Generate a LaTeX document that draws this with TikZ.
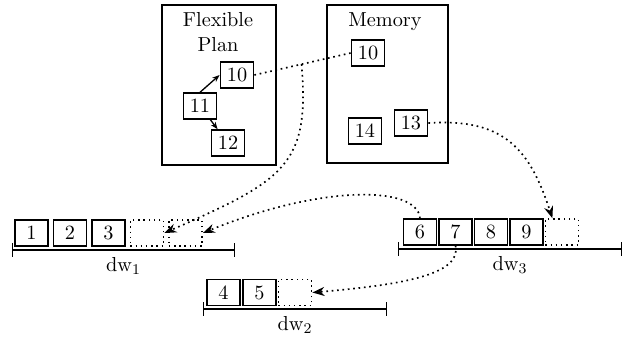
\documentclass[tikz,border=0pt]{standalone}
\usetikzlibrary{arrows.meta}
\begin{document}
\begin{tikzpicture}[x=0.0189cm, y=-0.0189cm,
		every node/.style={font=\fontsize{10.9}{13.4}\selectfont},
		cell/.style={draw, line width=0.8pt, minimum width=0.63cm, minimum height=0.49cm, inner sep=0pt},
		slot/.style={cell, dotted},
		holder/.style={draw, line width=0.8pt},
		link/.style={dotted, line width=0.9pt},
		pointer/.style={link, -{Stealth[length=6.5pt]}},
		step arrow/.style={line width=0.7pt, -{Stealth[length=4pt]}},
		bracket/.style={line width=0.8pt, {Bar[width=7pt]}-{Bar[width=7pt]}}]
	\useasboundingbox (0,0) rectangle (627,341);
	\node[holder, minimum width=2.16cm, minimum height=3.02cm] (plan) at (219,85) {};
	\node[align=center, anchor=north] (plantitle) at (218,6) {Flexible\\Plan};
	\node[holder, minimum width=2.29cm, minimum height=2.99cm] (memory) at (387.5,84) {};
	\node[anchor=north] (memtitle) at (385,6) {Memory};
	\node[cell] (p10) at (237,75) {10};
	\node[cell] (p11) at (200,106) {11};
	\node[cell] (p12) at (228,143) {12};
	\node[cell] (m10) at (368,53) {10};
	\node[cell] (m14) at (365,131) {14};
	\node[cell] (m13) at (411,123) {13};
	\node[cell] (a1) at (31.5,233) {1};
	\node[cell] (a2) at (70,233) {2};
	\node[cell] (a3) at (108.5,233) {3};
	\node[slot] (a4) at (147,233) {};
	\node[slot] (a5) at (185.5,233) {};
	\node[cell] (b1) at (223.5,292.5) {4};
	\node[cell] (b2) at (259.5,292.5) {5};
	\node[slot] (b3) at (295,292.5) {};
	\node[cell] (c6) at (420,232) {6};
	\node[cell] (c7) at (455.5,232) {7};
	\node[cell] (c8) at (491,232) {8};
	\node[cell] (c9) at (526.5,232) {9};
	\node[slot] (c10) at (562,232) {};
	\draw[bracket] (12,250) -- node[below] (dw1) {dw$_1$} (235,250);
	\draw[bracket] (203,309) -- node[below] (dw2) {dw$_2$} (387,309);
	\draw[bracket] (398,249) -- node[below] (dw3) {dw$_3$} (622,249);
	\draw[step arrow] (p11.north) -- (p10.west);
	\draw[step arrow] (p11) -- (p12);
	\draw[link] (p10.east) -- coordinate[pos=0.49] (split) (m10.west);
	\draw[pointer] (split) .. controls (310,165) and (285,180) .. (a4.east);
	\draw[pointer] (c6.north) .. controls (417,185) and (320,185) .. (a5.east);
	\draw[pointer] (m13.east) .. controls (505,118) and (530,150) .. (c10.125);
	\draw[pointer] (c7.south) .. controls (462,275) and (400,285) .. (b3.east);
\end{tikzpicture}
\end{document}
